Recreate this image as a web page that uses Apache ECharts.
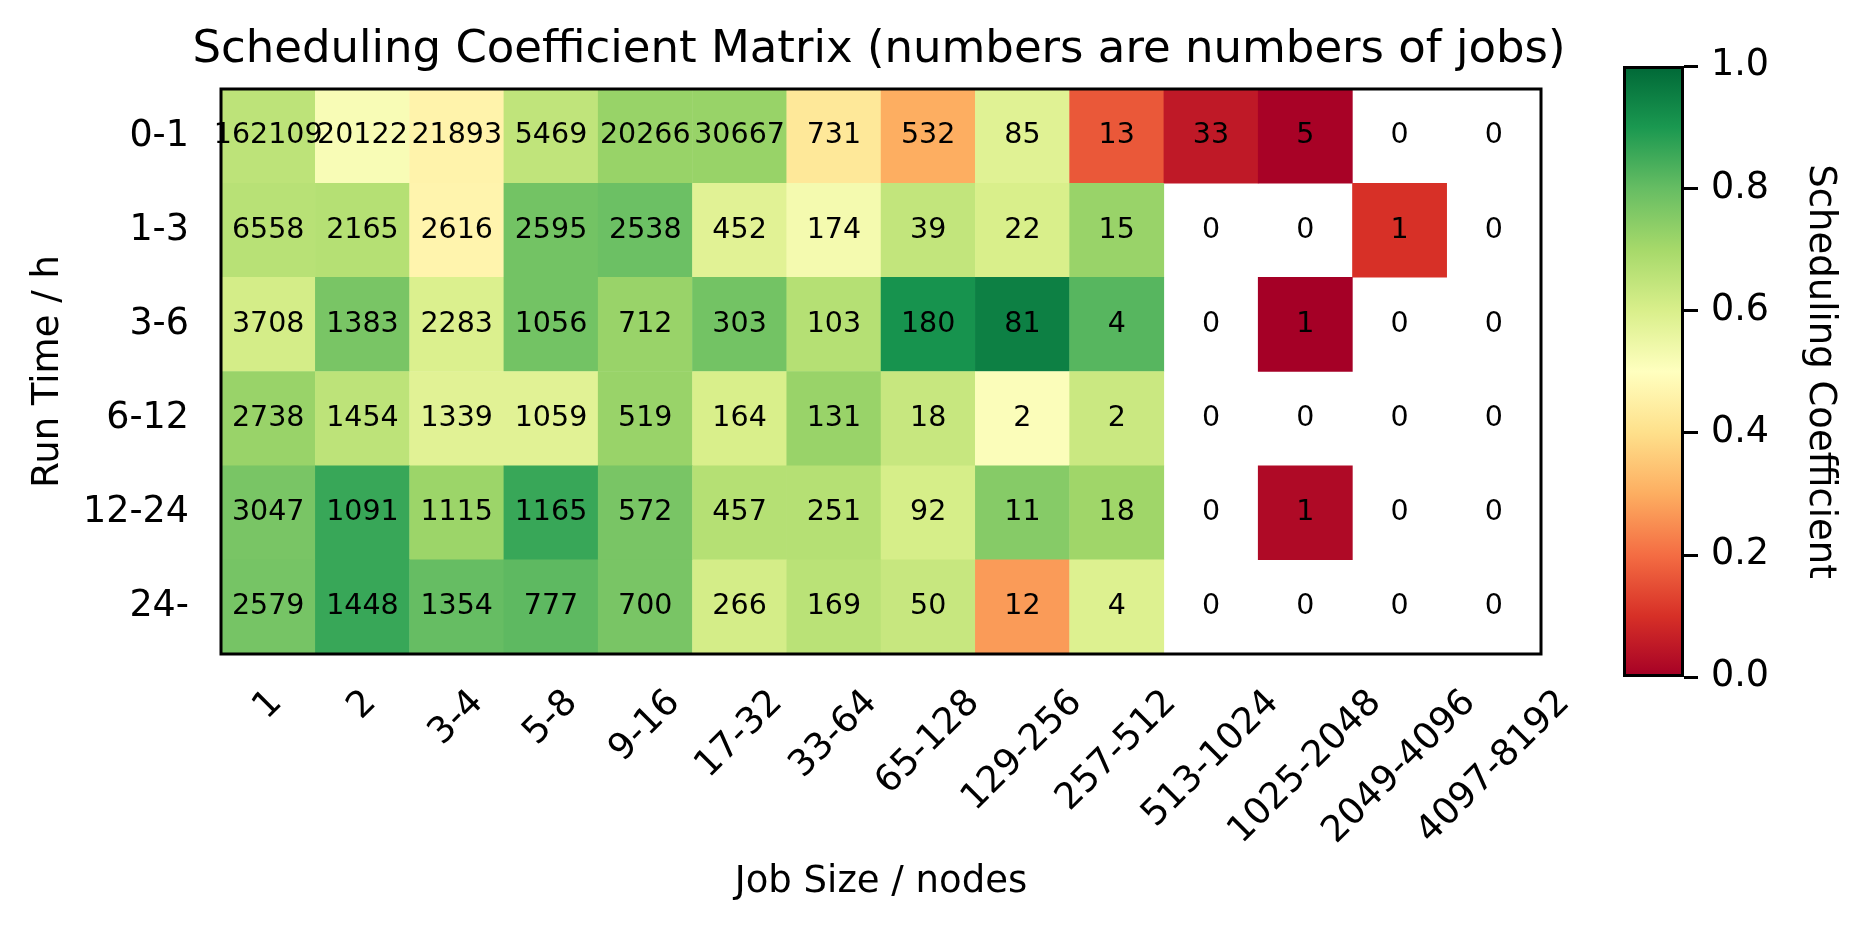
<!DOCTYPE html>
<html><head><meta charset="utf-8">
<script src="https://cdn.jsdelivr.net/npm/echarts@6/dist/echarts.min.js"></script>
<style>html,body{margin:0;padding:0;background:#fff}#c{width:1864px;height:936px}</style>
</head><body><div id="c"></div>
<script>
const jobSizes = ['1','2','3-4','5-8','9-16','17-32','33-64','65-128','129-256','257-512','513-1024','1025-2048','2049-4096','4097-8192'];
const runTimes = ['0-1','1-3','3-6','6-12','12-24','24-'];
const jobs_0_1  = [162109,20122,21893,5469,20266,30667,731,532,85,13,33,5,0,0];
const jobs_1_3  = [6558,2165,2616,2595,2538,452,174,39,22,15,0,0,1,0];
const jobs_3_6  = [3708,1383,2283,1056,712,303,103,180,81,4,0,1,0,0];
const jobs_6_12 = [2738,1454,1339,1059,519,164,131,18,2,2,0,0,0,0];
const jobs_12_24= [3047,1091,1115,1165,572,457,251,92,11,18,0,1,0,0];
const jobs_24   = [2579,1448,1354,777,700,266,169,50,12,4,0,0,0,0];
const coef_0_1  = [0.655,0.518,0.461,0.649,0.722,0.722,0.426,0.30,0.582,0.166,0.052,0.005,null,null];
const coef_1_3  = [0.665,0.67,0.465,0.78,0.79,0.58,0.53,0.645,0.60,0.72,null,null,0.10,null];
const coef_3_6  = [0.61,0.77,0.595,0.78,0.72,0.78,0.67,0.91,0.95,0.82,null,0.0,null,null];
const coef_6_12 = [0.72,0.655,0.58,0.58,0.72,0.60,0.72,0.635,0.51,0.63,null,null,null,null];
const coef_12_24= [0.77,0.86,0.715,0.86,0.77,0.67,0.67,0.605,0.75,0.71,null,0.02,null,null];
const coef_24   = [0.775,0.86,0.80,0.81,0.77,0.61,0.66,0.635,0.27,0.59,null,null,null,null];
const jobCounts = [jobs_0_1, jobs_1_3, jobs_3_6, jobs_6_12, jobs_12_24, jobs_24];
const coefficients = [coef_0_1, coef_1_3, coef_3_6, coef_6_12, coef_12_24, coef_24];
const colorbarTicks = [0, 0.2, 0.4, 0.6, 0.8, 1.0];
const rdylgn = ['#a50026','#d73027','#f46d43','#fdae61','#fee08b','#ffffbf','#d9ef8b','#a6d96a','#66bd63','#1a9850','#006837'];

const FONT = 'DejaVu Sans';
const TICK_FS = 36.5;
const LABEL_FS = 37;
const ctx = document.createElement('canvas').getContext('2d');
ctx.font = TICK_FS + 'px "DejaVu Sans"';
const rich = {};
jobSizes.forEach((s, i) => {
  const L = ctx.measureText(s).width;
  const p = (L + TICK_FS * 1.17) / 2;
  rich['t' + i] = {padding: [p, p, 0, 0], fontSize: TICK_FS, fontFamily: FONT, color: '#000'};
});

const cellData = [], zeroData = [];
runTimes.forEach((r, yi) => jobSizes.forEach((s, xi) => {
  const n = jobCounts[yi][xi];
  if (n > 0) cellData.push([xi, yi, coefficients[yi][xi], n]);
  else zeroData.push([xi, yi, 0, n]);
}));

const tickStyle = {color: '#000', width: 3};
const txt = {fontFamily: FONT, color: '#000'};
const chart = echarts.init(document.getElementById('c'), null, {renderer: 'canvas'});
chart.setOption({
  backgroundColor: '#fff',
  animation: false,
  title: {
    text: 'Scheduling Coefficient Matrix (numbers are numbers of jobs)',
    left: 874, top: 23, textAlign: 'center',
    textStyle: {fontSize: 45, fontWeight: 'normal', ...txt}
  },
  grid: [
    {left: 221, top: 89, width: 1320, height: 565, show: true, borderColor: '#000', borderWidth: 3, backgroundColor: 'transparent', z: 10},
    {left: 1623, top: 66, width: 61, height: 611}
  ],
  visualMap: [
    {type: 'continuous', min: 0, max: 1, dimension: 2, seriesIndex: 0, show: false, inRange: {color: rdylgn}},
    {type: 'continuous', min: 0, max: 1, dimension: 2, seriesIndex: 1, show: false, inRange: {color: ['rgba(255,255,255,0)', 'rgba(255,255,255,0)']}}
  ],
  xAxis: [
    {type: 'category', data: jobSizes, gridIndex: 0, position: 'bottom',
     axisLine: {show: false}, splitLine: {show: false},
     axisTick: {alignWithLabel: true, length: 14, lineStyle: tickStyle},
     axisLabel: {interval: 0, rotate: 45, align: 'center', verticalAlign: 'middle', margin: 28,
       formatter: (v, i) => '{t' + i + '|' + v + '}', rich: rich, fontSize: TICK_FS, ...txt},
     name: 'Job Size / nodes', nameLocation: 'middle', nameGap: 210,
     nameTextStyle: {fontSize: LABEL_FS, ...txt}},
    {type: 'category', data: ['cb'], gridIndex: 1, show: false}
  ],
  yAxis: [
    {type: 'category', data: runTimes, inverse: true, gridIndex: 0,
     axisLine: {show: false}, splitLine: {show: false},
     axisTick: {alignWithLabel: true, length: 14, lineStyle: tickStyle},
     axisLabel: {interval: 0, margin: 32, fontSize: TICK_FS, ...txt},
     name: 'Run Time / h', nameLocation: 'middle', nameGap: 154,
     nameTextStyle: {fontSize: LABEL_FS, ...txt}},
    {type: 'value', gridIndex: 1, position: 'right', min: colorbarTicks[0], max: colorbarTicks[colorbarTicks.length - 1], interval: 0.2,
     axisLine: {show: false}, splitLine: {show: false},
     axisTick: {show: true, length: 14, lineStyle: tickStyle},
     axisLabel: {formatter: v => v.toFixed(1), margin: 27, fontSize: TICK_FS, ...txt},
     name: 'Scheduling Coefficient', nameLocation: 'middle', nameRotate: -90, nameGap: 117,
     nameTextStyle: {fontSize: LABEL_FS, ...txt}}
  ],
  series: [
    {type: 'heatmap', xAxisIndex: 0, yAxisIndex: 0, data: cellData,
     label: {show: true, formatter: p => String(p.value[3]), fontSize: 28.5, ...txt},
     emphasis: {disabled: true}},
    {type: 'heatmap', xAxisIndex: 0, yAxisIndex: 0, data: zeroData,
     label: {show: true, formatter: p => String(p.value[3]), fontSize: 28.5, ...txt},
     emphasis: {disabled: true}},
    {type: 'bar', xAxisIndex: 1, yAxisIndex: 1, barWidth: '100%', silent: true,
     data: [colorbarTicks[colorbarTicks.length - 1]],
     itemStyle: {
       color: new echarts.graphic.LinearGradient(0, 0, 0, 1,
         rdylgn.slice().reverse().map((c, i) => ({offset: i / (rdylgn.length - 1), color: c}))),
       borderColor: '#000', borderWidth: 3
     }}
  ]
});
</script></body></html>
